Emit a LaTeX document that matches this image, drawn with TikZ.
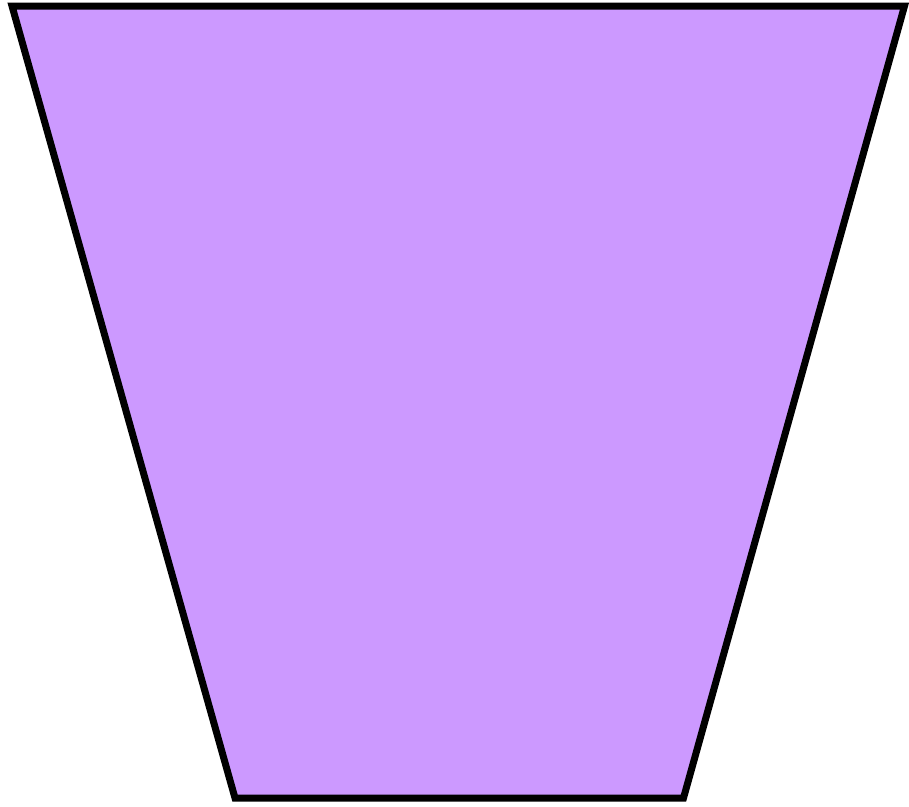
\documentclass[tikz,border=0pt]{standalone}
\definecolor{lav}{RGB}{204,153,255}
\begin{document}
\begin{tikzpicture}[x=1pt,y=-1pt]
\useasboundingbox (0,0) rectangle (909,806);
\tikzset{shapestyle/.style={fill=lav,draw=black,line width=7pt,line join=miter}}
\draw[shapestyle] (12,6) -- (904.5,6) -- (683.5,798) -- (235,798) -- cycle;
\end{tikzpicture}
\end{document}
